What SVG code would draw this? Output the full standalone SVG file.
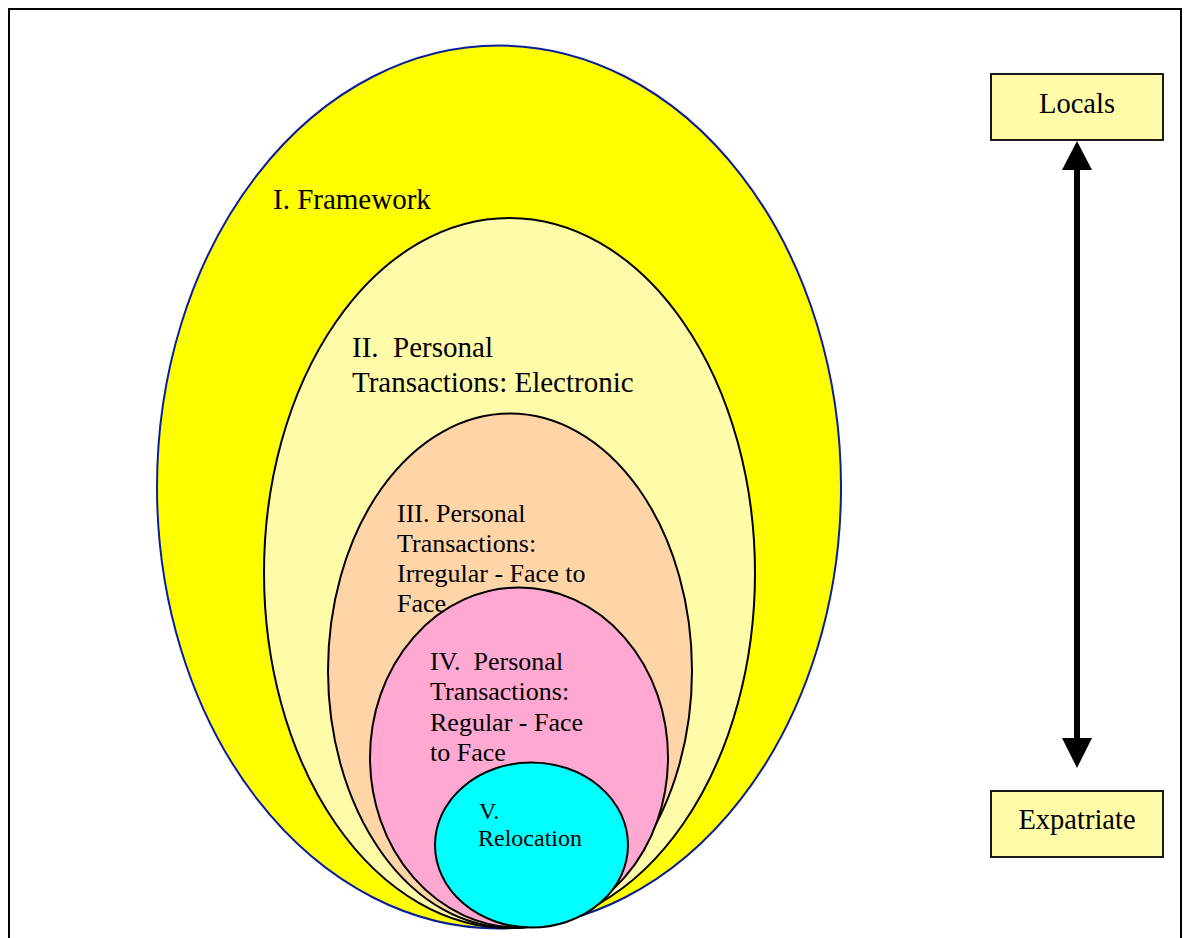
<svg xmlns="http://www.w3.org/2000/svg" width="1184" height="938" viewBox="0 0 1184 938">
<style>
text{font-family:"Liberation Serif","Times New Roman",serif;fill:#000}
.ring{stroke:#000;stroke-width:2}
.box{fill:#FFFBA8;stroke:#000;stroke-width:1.8}
</style>
<rect x="0" y="0" width="1184" height="938" fill="#fff"/>
<rect x="9" y="9" width="1172" height="945" fill="none" stroke="#000" stroke-width="2"/>
<g id="framework">
<ellipse cx="499" cy="487" rx="342" ry="441.5" fill="#FFFF00" stroke="#0A1E9A" stroke-width="2"/>
<text x="273" y="209" font-size="29">I. Framework</text>
</g>
<g id="electronic">
<ellipse class="ring" cx="509.5" cy="573" rx="245.5" ry="355" fill="#FFFBA8"/>
<text x="352" y="357" font-size="29" xml:space="preserve">II.  Personal</text>
<text x="352" y="392" font-size="29">Transactions: Electronic</text>
</g>
<g id="irregular">
<ellipse class="ring" cx="510" cy="670.5" rx="182" ry="257" fill="#FFD5A8"/>
<text x="397" y="522" font-size="26">III. Personal</text>
<text x="397" y="552" font-size="26">Transactions:</text>
<text x="397" y="582" font-size="26">Irregular - Face to</text>
<text x="397" y="612" font-size="26">Face</text>
</g>
<g id="regular">
<ellipse class="ring" cx="519" cy="757.5" rx="149" ry="170" fill="#FFA8D2"/>
<text x="430" y="670" font-size="26" xml:space="preserve">IV.  Personal</text>
<text x="430" y="700" font-size="26">Transactions:</text>
<text x="430" y="731" font-size="26">Regular - Face</text>
<text x="430" y="761" font-size="26">to Face</text>
</g>
<g id="relocation">
<ellipse class="ring" cx="531.5" cy="845" rx="96.5" ry="82.5" fill="#00FFFF"/>
<text x="479" y="819" font-size="24">V.</text>
<text x="478" y="846" font-size="24">Relocation</text>
</g>
<g id="locals">
<rect class="box" x="991" y="74" width="172" height="66"/>
<text x="1077" y="113" font-size="28.5" text-anchor="middle">Locals</text>
</g>
<g id="expatriate">
<rect class="box" x="991" y="791" width="172" height="66"/>
<text x="1077" y="829" font-size="28.5" text-anchor="middle">Expatriate</text>
</g>
<g id="connectors">
<line x1="1077" y1="165" x2="1077" y2="742" stroke="#000" stroke-width="6"/>
<polygon points="1077,141 1062,170 1092,170" fill="#000"/>
<polygon points="1077,768 1062,738 1092,738" fill="#000"/>
</g>
</svg>
